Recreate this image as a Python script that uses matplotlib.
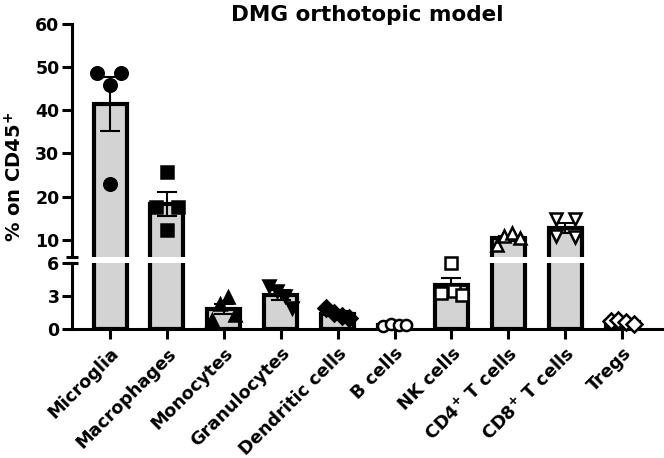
import matplotlib.pyplot as plt
import numpy as np

# cell populations, % of CD45+ cells, 4 animals each
cells = ['Microglia', 'Macrophages', 'Monocytes', 'Granulocytes', 'Dendritic cells',
         'B cells', 'NK cells', r'CD4$^{\mathbf{+}}$ T cells', r'CD8$^{\mathbf{+}}$ T cells', 'Tregs']
microglia = [48.6, 45.8, 48.6, 22.9]
macrophages = [25.7, 17.5, 17.5, 12.2]
monocytes = [0.8, 2.3, 2.9, 1.3]
granulocytes = [3.9, 3.5, 3.0, 1.9]
dendritic = [1.9, 1.5, 1.2, 1.0]
b_cells = [0.3, 0.5, 0.4, 0.4]
nk_cells = [3.3, 6.0, 3.5, 3.1]
cd4 = [8.8, 10.8, 11.5, 10.4]
cd8 = [14.8, 10.8, 10.6, 14.8]
tregs = [0.7, 0.8, 0.6, 0.5]
values = [microglia, macrophages, monocytes, granulocytes, dendritic,
          b_cells, nk_cells, cd4, cd8, tregs]

markers = ['o', 's', '^', 'v', 'D', 'o', 's', '^', 'v', 'D']
filled = [True] * 5 + [False] * 5
spread = [[-0.22, 0, 0.2, 0], [0, -0.2, 0.2, 0]] + [[-0.2, -0.07, 0.07, 0.2]] * 8
spread[6] = [-0.18, 0, 0.05, 0.18]
spread[8] = [-0.17, -0.17, 0.17, 0.17]

plt.rcParams['font.family'] = ['DejaVu Sans']
plt.rcParams['font.weight'] = 'bold'
plt.rcParams['mathtext.default'] = 'bf'

fig = plt.figure(figsize=(6.64, 4.58), dpi=100)
left, right = 72 / 664, 662 / 664
ax_top = fig.add_axes([left, 1 - 257 / 458, right - left, (257 - 24) / 458])
ax_bot = fig.add_axes([left, 1 - 329 / 458, right - left, (329 - 263) / 458])

x = np.arange(len(cells))
means = [np.mean(v) for v in values]
sems = [np.std(v, ddof=1) / np.sqrt(len(v)) for v in values]

for ax in (ax_top, ax_bot):
    ax.bar(x, means, width=0.58, color='#d3d3d3', edgecolor='black', linewidth=3, zorder=2)
    ax.errorbar(x, means, yerr=sems, fmt='none', ecolor='black', elinewidth=1.5,
                capsize=7, capthick=1.5, zorder=3)
    ax.set_xlim(-0.668, 9.7)
    for s in ('top', 'right'):
        ax.spines[s].set_visible(False)
    ax.spines['left'].set_linewidth(2.2)
    ax.tick_params(axis='y', width=2.2, length=7, labelsize=12.5, pad=2)

# points: small values live in the lower panel (unclipped), the rest in the upper one
for i, v in enumerate(values):
    v = np.array(v)
    xs = x[i] + np.array(spread[i])
    low = v < 7
    style = dict(linestyle='none', marker=markers[i], markersize=9 if i < 2 else 8,
                 markerfacecolor='black' if filled[i] else 'white',
                 markeredgecolor='black', markeredgewidth=1.8, zorder=4)
    if low.any():
        ax_bot.plot(xs[low], v[low], clip_on=False, **style)
    if (~low).any():
        ax_top.plot(xs[~low], v[~low], **style)

ax_top.set_ylim(6, 60)
ax_top.set_yticks([10, 20, 30, 40, 50, 60])
ax_top.spines['bottom'].set_visible(False)
ax_top.tick_params(axis='x', bottom=False, labelbottom=False)

ax_bot.set_ylim(0, 6)
ax_bot.set_yticks([0, 3, 6])
ax_bot.spines['bottom'].set_linewidth(2.2)
ax_bot.set_xticks(x)
ax_bot.set_xticklabels(cells, rotation=45, ha='right', rotation_mode='anchor', fontsize=12.8)
ax_bot.tick_params(axis='x', width=2.2, length=7, pad=4)

# break marks on the y axis
for ax, yb in ((ax_top, 0), (ax_bot, 1)):
    ax.plot([-0.011, 0.011], [yb, yb], transform=ax.transAxes, color='black',
            linewidth=2.2, clip_on=False, solid_capstyle='butt')

fig.text((72 + 662) / 2 / 664, 1 - 15 / 458, 'DMG orthotopic model', ha='center', va='center',
         fontsize=15.5, fontweight='bold')
fig.text(15 / 664, 1 - 177 / 458, r'% on CD45$^{\mathbf{+}}$', rotation=90, ha='center',
         va='center', fontsize=14, fontweight='bold')

fig.savefig('out.png', dpi=100)
